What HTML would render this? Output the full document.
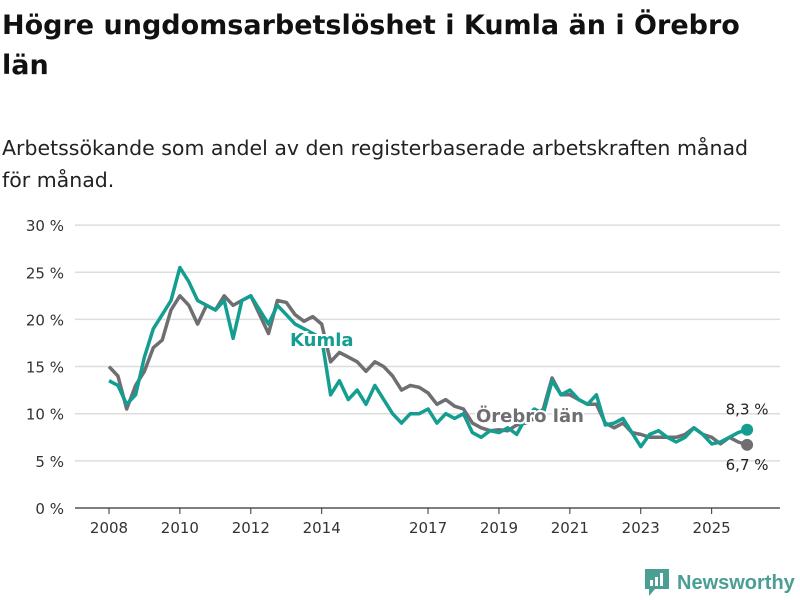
<!DOCTYPE html>
<html><head><meta charset="utf-8"><style>
body{margin:0;width:800px;height:600px;background:#fff;font-family:"DejaVu Sans","Liberation Sans",sans-serif;color:#111;overflow:hidden;position:relative}
#title{position:absolute;left:2px;top:6px;font-size:27px;font-weight:bold;line-height:40px;margin:0;width:790px}
#sub{position:absolute;left:2px;top:132px;font-size:20.5px;line-height:32px;width:770px;color:#222}
svg{position:absolute;left:0;top:0}
</style></head><body>
<h1 id="title">Högre ungdomsarbetslöshet i Kumla än i Örebro län</h1>
<div id="sub">Arbetssökande som andel av den registerbaserade arbetskraften månad för månad.</div>
<svg id="chart" width="800" height="600"></svg>
<script>
const yTicks=[0,5,10,15,20,25,30];
const xTicks=[2008,2010,2012,2014,2017,2019,2021,2023,2025];
const startYear=2008, step=0.25;
const orebro=[15,14,10.5,13,14.5,17,17.8,21,22.5,21.5,19.5,21.5,21,22.5,21.5,22,22.5,20.5,18.5,22,21.8,20.5,19.8,20.3,19.5,15.5,16.5,16,15.5,14.5,15.5,15,14,12.5,13,12.8,12.2,11,11.5,10.8,10.5,9,8.5,8.2,8.3,8.2,8.8,9,9.5,10.5,13.8,12,12,11.5,11,11,9,8.5,9,8,7.8,7.5,7.5,7.5,7.5,7.8,8.5,7.8,7.5,6.8,7.5,7,6.7];
const kumla=[13.5,13,11,12,16,19,20.5,22,25.5,24,22,21.5,21,22,18,22,22.5,21,19.5,21.5,20.5,19.5,19,18.5,18,12,13.5,11.5,12.5,11,13,11.5,10,9,10,10,10.5,9,10,9.5,10,8,7.5,8.2,8,8.5,7.8,9.5,10.5,10,13.5,12,12.5,11.5,11,12,8.8,9,9.5,8,6.5,7.8,8.2,7.5,7,7.5,8.5,7.8,6.8,7,7.5,8,8.3];
const NS='http://www.w3.org/2000/svg';
const svg=document.getElementById('chart');
const X=t=>109+(t-2008)*35.45;
const Y=v=>508-v*9.43;
function mk(tag,attrs,parent){const e=document.createElementNS(NS,tag);for(const k in attrs)e.setAttribute(k,attrs[k]);(parent||svg).appendChild(e);return e;}
yTicks.forEach(v=>{
  const l=mk('line',{x1:75,x2:780,y1:Y(v),y2:Y(v),stroke:v===0?'#333':'#ddd','stroke-width':v===0?1.2:1.5});
  
  
  const t=mk('text',{x:64,y:Y(v)+6,'text-anchor':'end','font-size':15,fill:'#333'});
  t.textContent=v+' %';
  
  
});
xTicks.forEach(yr=>{
  const l=mk('line',{x1:X(yr),x2:X(yr),y1:508,y2:514,stroke:'#333'});
  
  
  const t=mk('text',{x:X(yr),y:533,'text-anchor':'middle','font-size':15,fill:'#333'});
  t.textContent=yr;
  
  
});
function path(arr){return arr.map((v,i)=>(i?'L':'M')+X(startYear+i*step).toFixed(1)+','+Y(v).toFixed(1)).join('');}
const g=mk('path',{d:path(orebro),fill:'none',stroke:'#6e6e73','stroke-width':3.5,'stroke-linejoin':'round'});


const k=mk('path',{d:path(kumla),fill:'none',stroke:'#139e91','stroke-width':3.5,'stroke-linejoin':'round'});


const lastT=startYear+(kumla.length-1)*step;
const c1=mk('circle',{cx:X(lastT),cy:Y(orebro[orebro.length-1]),r:6,fill:'#6e6e73'});


const c2=mk('circle',{cx:X(lastT),cy:Y(kumla[kumla.length-1]),r:6,fill:'#139e91'});


const v1=mk('text',{x:X(lastT),y:Y(kumla[kumla.length-1])-15,'text-anchor':'middle','font-size':15,fill:'#222'});
v1.textContent=String(kumla[kumla.length-1]).replace('.',',')+' %';


const v2=mk('text',{x:X(lastT),y:Y(orebro[orebro.length-1])+25,'text-anchor':'middle','font-size':15,fill:'#222'});
v2.textContent=String(orebro[orebro.length-1]).replace('.',',')+' %';


const lk=mk('text',{x:290,y:346,'font-size':18,'font-weight':'bold',fill:'#139e91',stroke:'#fff','stroke-width':4,'paint-order':'stroke'});
lk.textContent='Kumla';


const lo=mk('text',{x:476,y:422,'font-size':18,'font-weight':'bold',fill:'#6e6e73',stroke:'#fff','stroke-width':4,'paint-order':'stroke'});
lo.textContent='Örebro län';


</script>
<div style="position:absolute;left:645px;top:569px;display:flex;align-items:center">
<svg width="24" height="28" style="position:static"><path d="M0 0H24V20H10L4 27V20H0Z" fill="#4a9e94"/><rect x="5" y="11" width="3" height="6" fill="#fff"/><rect x="10" y="8" width="3" height="9" fill="#fff"/><rect x="15" y="4" width="3" height="13" fill="#fff"/></svg>
<span style="font-size:20px;color:#4a9e94;margin-left:8px;font-family:'Liberation Sans',sans-serif;font-weight:bold">Newsworthy</span>
</div>
</body></html>
